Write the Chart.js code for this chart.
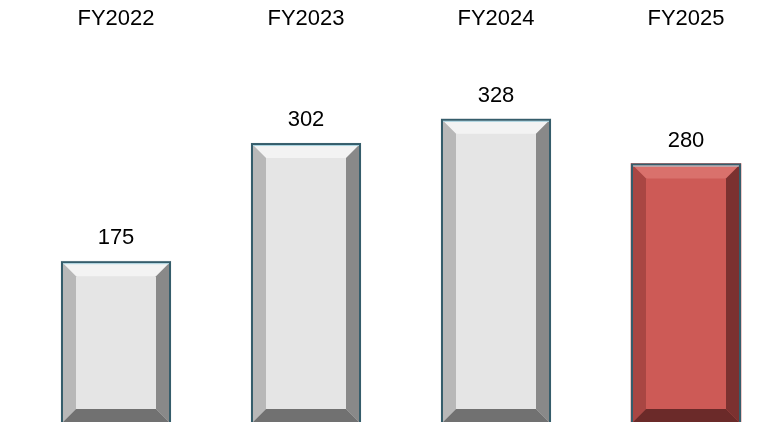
<!DOCTYPE html>
<html>
<head>
<meta charset="utf-8">
<script src="https://cdn.jsdelivr.net/npm/chart.js@4/dist/chart.umd.min.js"></script>
<style>
  html, body { margin: 0; padding: 0; background: #fff; overflow: hidden; }
  #wrap { position: relative; width: 802px; height: 440px; }
</style>
</head>
<body>
<div id="wrap"><canvas id="graph" width="802" height="440"></canvas></div>
<script>
const years = ["FY2022", "FY2023", "FY2024", "FY2025"];
const revenue = [175, 302, 328, 280];
const highlight = [false, false, false, true];

// face / top / left / right / bottom shades for the bevelled bars
const greyBar = { face: "#e5e5e5", top: "#f3f3f3", left: "#b8b8b8", right: "#898989", bottom: "#717171" };
const redBar = { face: "#cd5a56", top: "#d9716c", left: "#a94643", right: "#7b3130", bottom: "#6b2a29" };

const bevel = {
  id: "bevel",
  afterDatasetsDraw(chart) {
    const ctx = chart.ctx;
    const meta = chart.getDatasetMeta(0);
    meta.data.forEach((bar, i) => {
      const c = highlight[i] ? redBar : greyBar;
      const l = bar.x - bar.width / 2, r = bar.x + bar.width / 2;
      const t = bar.y, b = bar.base, d = 15;
      const poly = (pts, col) => {
        ctx.beginPath();
        ctx.moveTo(pts[0][0], pts[0][1]);
        pts.slice(1).forEach(p => ctx.lineTo(p[0], p[1]));
        ctx.closePath();
        ctx.fillStyle = col;
        ctx.fill();
      };
      ctx.save();
      poly([[l, t], [r, t], [r - d, t + d], [l + d, t + d]], c.top);
      poly([[l, t], [l + d, t + d], [l + d, b - d], [l, b]], c.left);
      poly([[r, t], [r, b], [r - d, b - d], [r - d, t + d]], c.right);
      poly([[l, b], [r, b], [r - d, b - d], [l + d, b - d]], c.bottom);
      ctx.strokeStyle = "#355d6b";
      ctx.lineWidth = 2;
      ctx.strokeRect(l + 1, t + 1, r - l - 2, b - t - 2);
      ctx.strokeStyle = "#a9d3df";
      ctx.lineWidth = 1;
      ctx.beginPath();
      ctx.moveTo(l + 2, t + 2.5);
      ctx.lineTo(r - 2, t + 2.5);
      ctx.stroke();
      // value above the bar
      ctx.fillStyle = "#000";
      ctx.font = "22px 'Liberation Sans'";
      ctx.textAlign = "center";
      ctx.textBaseline = "alphabetic";
      ctx.fillText(String(revenue[i]), bar.x, t - 17);
      ctx.restore();
    });
  }
};

new Chart(document.getElementById("graph"), {
  type: "bar",
  data: {
    labels: years,
    datasets: [{
      data: revenue,
      backgroundColor: highlight.map(h => (h ? redBar.face : greyBar.face)),
      borderWidth: 0,
      barThickness: 110
    }]
  },
  options: {
    responsive: false,
    animation: false,
    devicePixelRatio: 1,
    layout: { padding: { left: 21, right: 21, top: 0, bottom: 16 } },
    plugins: { legend: { display: false }, tooltip: { enabled: false } },
    scales: {
      x: {
        position: "top",
        grid: { display: false, drawTicks: false },
        border: { display: false },
        ticks: { color: "#000", padding: 18, maxRotation: 0, font: { family: "'Liberation Sans'", size: 22 } },
        afterFit: (axis) => { axis.height = 50; }
      },
      y: { display: false, min: 0, max: 402 }
    }
  },
  plugins: [bevel]
});
</script>
</body>
</html>
